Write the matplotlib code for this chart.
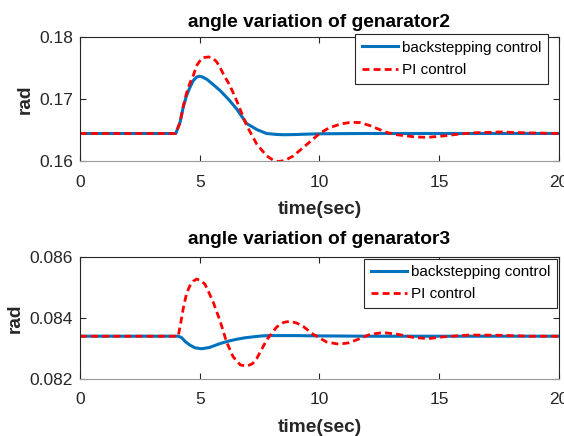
import matplotlib
matplotlib.use("Agg")
import matplotlib.pyplot as plt

# ── Dados ──────────────────────────────────────────────────────
t_bs2 = [0, 4.0, 4.18, 4.31, 4.45, 4.59, 4.73, 4.87, 4.98, 5.1, 5.3, 5.55, 5.85,
         6.2, 6.54, 6.96, 7.4, 7.79, 8.2, 8.5, 9.0, 9.5, 10.0, 12, 15, 20]
bs2 = [0.1645, 0.1645, 0.1663, 0.1687, 0.1706, 0.1719, 0.1730, 0.17355, 0.1737,
       0.1736, 0.1732, 0.1724, 0.1714, 0.1700, 0.16845, 0.1661, 0.1651, 0.1645,
       0.16435, 0.1643, 0.16433, 0.1644, 0.16445, 0.1645, 0.1645, 0.1645]

t_pi2 = [0, 4.0, 4.18, 4.31, 4.45, 4.59, 4.73, 4.87, 5.05, 5.15, 5.38, 5.55, 5.71,
         5.85, 5.98, 6.26, 6.54, 6.96, 7.38, 7.79, 8.05, 8.28, 8.55, 8.91, 9.4,
         10.02, 10.4, 10.86, 11.3, 11.7, 12.11, 12.8, 13.22, 13.92, 14.47, 15.17,
         15.87, 16.43, 17.54, 18.65, 20]
pi2 = [0.1645, 0.1645, 0.1663, 0.1688, 0.1710, 0.1726, 0.1738, 0.1754, 0.1764,
       0.1767, 0.1768, 0.1766, 0.1760, 0.1751, 0.1741, 0.1722, 0.16979, 0.16576,
       0.1628, 0.16092, 0.16025, 0.1600, 0.16015, 0.1609, 0.1625, 0.16455, 0.1654,
       0.1660, 0.1663, 0.16625, 0.16576, 0.16468, 0.1643, 0.16398, 0.16387, 0.1641,
       0.16442, 0.1646, 0.16474, 0.1646, 0.1645]

t_bs3 = [0, 4.1, 4.25, 4.4, 4.59, 4.8, 5.08, 5.4, 5.85, 6.2, 6.54, 6.9, 7.24,
         7.6, 7.93, 9, 10, 12, 20]
bs3 = [0.0834, 0.0834, 0.08335, 0.08322, 0.08311, 0.08302, 0.08299, 0.08303,
       0.08316, 0.08324, 0.0833, 0.08335, 0.08338, 0.08341, 0.08342, 0.08342,
       0.08341, 0.0834, 0.0834]

t_pi3 = [0, 4.1, 4.2, 4.31, 4.45, 4.59, 4.73, 4.87, 5.05, 5.22, 5.4, 5.57, 5.85,
         6.12, 6.4, 6.7, 6.96, 7.2, 7.38, 7.79, 8.21, 8.5, 8.77, 9.05, 9.32, 9.74,
         10.3, 10.8, 11.2, 11.55, 12.11, 12.66, 13.29, 13.92, 14.54, 15.17, 16.28,
         17.54, 18.79, 20]
pi3 = [0.0834, 0.0834, 0.0838, 0.0843, 0.0848, 0.08505, 0.0852, 0.08527, 0.08522,
       0.0851, 0.0848, 0.0845, 0.0839, 0.08321, 0.08272, 0.08246, 0.08242, 0.0825,
       0.08267, 0.08327, 0.0837, 0.08385, 0.08389, 0.08383, 0.08372, 0.08346,
       0.08321, 0.08314, 0.08318, 0.08328, 0.08346, 0.08352, 0.08346, 0.08336,
       0.08332, 0.08338, 0.08344, 0.08343, 0.0834, 0.0834]

xticks = [0, 5, 10, 15, 20]
yticks2 = [0.16, 0.17, 0.18]
yticks3 = [0.082, 0.084, 0.086]

# ── Estilo ─────────────────────────────────────────────────────
plt.rcParams["font.family"] = ["Liberation Sans", "DejaVu Sans"]
BLUE = "#0072BD"
RED = "#FF0000"

fig = plt.figure(figsize=(5.64, 4.36), dpi=100)
ax1 = fig.add_axes([0.1418, 0.6296, 0.8493, 0.2855])
ax2 = fig.add_axes([0.1418, 0.1307, 0.8493, 0.2805])


def style(ax, yticks, ylim, title, title_pad, leg_anchor):
    ax.set_xlim(0, 20)
    ax.set_ylim(*ylim)
    ax.set_xticks(xticks)
    ax.set_yticks(yticks)
    ax.set_yticklabels([f"{v:g}" for v in yticks])
    ax.tick_params(direction="in", length=4, width=0.8, top=True, right=True,
                   labelsize=12.5, colors="#262626")
    ax.tick_params(axis="x", pad=9.5)
    ax.tick_params(axis="y", pad=5)
    for s in ax.spines.values():
        s.set_color("#262626")
        s.set_linewidth(0.8)
    ax.spines["bottom"].set_color("#9a9a9a")
    ax.set_title(title, fontsize=13.75, fontweight="bold", pad=title_pad)
    ax.set_xlabel("time(sec)", fontsize=13.75, fontweight="bold", labelpad=8.5,
                  color="#262626")
    ax.set_ylabel("rad", fontsize=13.75, fontweight="bold", labelpad=4,
                  color="#262626")
    leg = ax.legend(loc="upper right", bbox_to_anchor=leg_anchor, fontsize=11,
                    fancybox=False, framealpha=1, edgecolor="#262626",
                    handlelength=2.4, handletextpad=0.25, borderpad=0.42,
                    labelspacing=0.55, borderaxespad=0)
    leg.get_frame().set_linewidth(0.8)


# ── Gerador 2 ──────────────────────────────────────────────────
ax1.plot(t_bs2, bs2, color=BLUE, lw=2.2, label="backstepping control")
ax1.plot(t_pi2, pi2, color=RED, lw=2.0, ls=(0, (2.5, 1.5)), label="PI control")
style(ax1, yticks2, (0.16, 0.18), "angle variation of genarator2", 7.5,
      (0.977, 1.022))

# ── Gerador 3 ──────────────────────────────────────────────────
ax2.plot(t_bs3, bs3, color=BLUE, lw=2.2, label="backstepping control")
ax2.plot(t_pi3, pi3, color=RED, lw=2.0, ls=(0, (2.5, 1.5)), label="PI control")
style(ax2, yticks3, (0.082, 0.086), "angle variation of genarator3", 9,
      (0.996, 0.984))

fig.savefig("out.png", dpi=100)
